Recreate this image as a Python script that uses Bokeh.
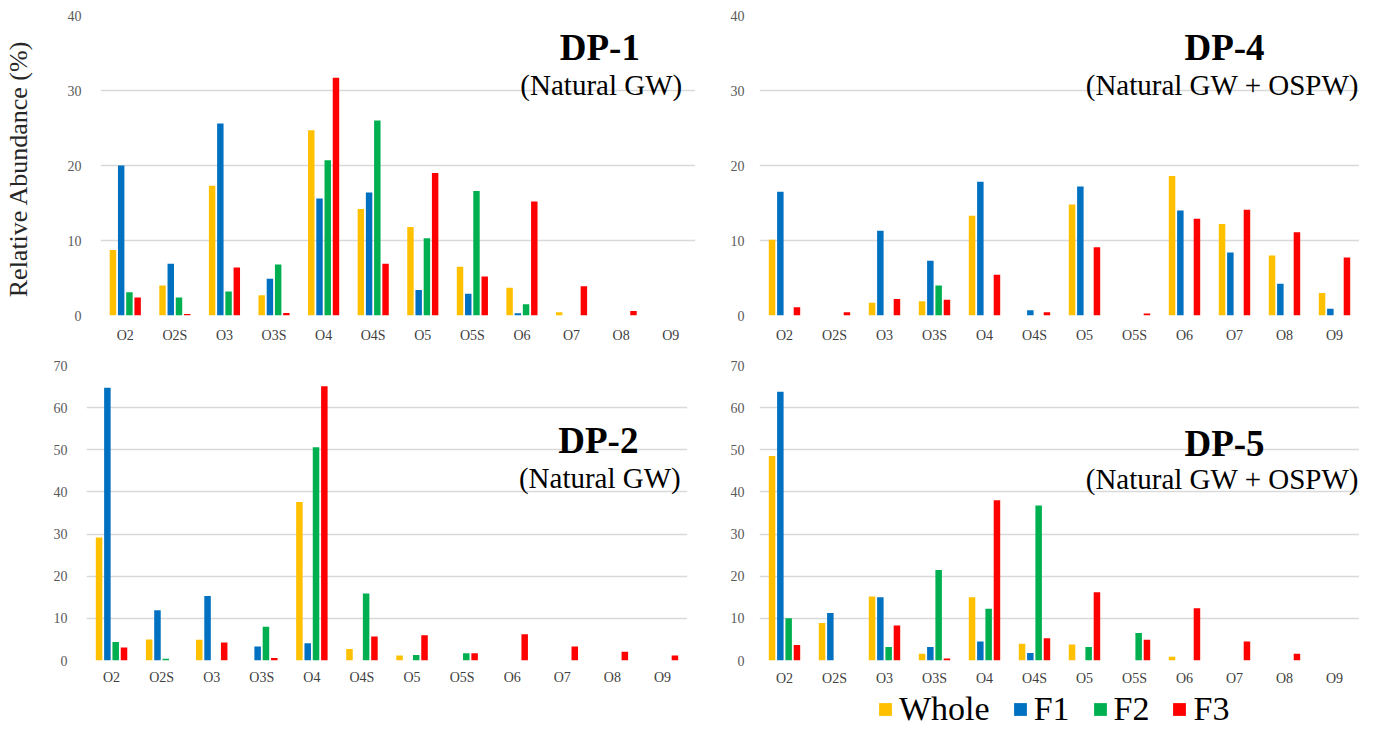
from bokeh.plotting import figure
from bokeh.models import (FactorRange, Range1d, SingleIntervalTicker, Label,
                          Legend, LegendItem, ColumnDataSource)
from bokeh.layouts import row, column
from bokeh.transform import dodge
from bokeh.embed import file_html
from bokeh.resources import INLINE

categories = ["O2", "O2S", "O3", "O3S", "O4", "O4S", "O5", "O5S", "O6", "O7", "O8", "O9"]
series = ["Whole", "F1", "F2", "F3"]
colors = ["#FFC000", "#0070C0", "#00B050", "#FF0000"]

dp1_whole = [8.75, 4.0, 17.3, 2.7, 24.7, 14.2, 11.8, 6.5, 3.7, 0.45, 0, 0]
dp1_f1 = [20.0, 6.9, 25.6, 4.9, 15.6, 16.4, 3.4, 2.9, 0.3, 0, 0, 0]
dp1_f2 = [3.1, 2.4, 3.2, 6.8, 20.7, 26.0, 10.3, 16.6, 1.5, 0, 0, 0]
dp1_f3 = [2.4, 0.2, 6.4, 0.35, 31.7, 6.9, 19.0, 5.2, 15.2, 3.9, 0.6, 0]

dp4_whole = [10.1, 0, 1.7, 1.9, 13.3, 0, 14.8, 0, 18.6, 12.2, 8.0, 3.0]
dp4_f1 = [16.5, 0, 11.3, 7.3, 17.85, 0.7, 17.2, 0, 14.0, 8.4, 4.25, 0.9]
dp4_f2 = [0, 0, 0, 4.0, 0, 0, 0, 0, 0, 0, 0, 0]
dp4_f3 = [1.1, 0.45, 2.2, 2.1, 5.45, 0.45, 9.1, 0.27, 12.9, 14.1, 11.1, 7.75]

dp2_whole = [29.2, 5.0, 4.9, 0, 37.6, 2.7, 1.2, 0, 0, 0, 0, 0]
dp2_f1 = [64.7, 11.9, 15.3, 3.3, 4.1, 0, 0, 0, 0, 0, 0, 0]
dp2_f2 = [4.4, 0.4, 0, 8.0, 50.6, 15.9, 1.3, 1.7, 0, 0, 0, 0]
dp2_f3 = [3.1, 0, 4.3, 0.6, 65.1, 5.7, 6.0, 1.7, 6.2, 3.3, 2.1, 1.2]

dp5_whole = [48.5, 8.9, 15.2, 1.6, 15.0, 4.0, 3.8, 0, 0.9, 0, 0, 0]
dp5_f1 = [63.8, 11.3, 15.0, 3.2, 4.5, 1.8, 0, 0, 0, 0, 0, 0]
dp5_f2 = [10.0, 0, 3.2, 21.5, 12.3, 36.8, 3.2, 6.5, 0, 0, 0, 0]
dp5_f3 = [3.7, 0, 8.3, 0.5, 38.0, 5.3, 16.2, 4.9, 12.4, 4.5, 1.6, 0]

FONT = "Liberation Serif"
offsets = [-0.249, -0.083, 0.083, 0.249]


def make_panel(vals, ymax, width, height, mbl, mbr, mbt, mbb, ylab_standoff,
               xlab_standoff, title, subtitle, tx, ty, sx, sy, sub_align="center",
               ytitle=None):
    p = figure(x_range=FactorRange(*categories, range_padding=0),
               y_range=Range1d(0, ymax), width=width, height=height,
               output_backend="svg", toolbar_location=None,
               min_border_left=mbl, min_border_right=mbr,
               min_border_top=mbt, min_border_bottom=mbb)
    src = ColumnDataSource(dict(cat=categories, Whole=vals[0], F1=vals[1],
                                F2=vals[2], F3=vals[3]))
    for s, c, off in zip(series, colors, offsets):
        p.vbar(x=dodge("cat", off, range=p.x_range), top=s, width=0.13,
               source=src, fill_color=c, line_color=None)
    p.outline_line_color = None
    p.xgrid.grid_line_color = None
    p.ygrid.grid_line_color = "#d9d9d9"
    p.ygrid.grid_line_width = 1.5
    p.yaxis.ticker = SingleIntervalTicker(interval=10)
    for ax in (p.xaxis[0], p.yaxis[0]):
        ax.axis_line_color = None
        ax.major_tick_line_color = None
        ax.minor_tick_line_color = None
        ax.major_tick_out = 0
        ax.major_tick_in = 0
        ax.major_label_text_font = FONT
        ax.major_label_text_font_size = "14px"
    p.xaxis.major_label_text_color = "#404040"
    p.yaxis.major_label_text_color = "#595959"
    p.yaxis.major_label_standoff = ylab_standoff
    p.xaxis.major_label_standoff = xlab_standoff
    if ytitle:
        p.yaxis.axis_label = ytitle
        p.yaxis.axis_label_text_font = FONT
        p.yaxis.axis_label_text_font_style = "normal"
        p.yaxis.axis_label_text_font_size = "26px"
        p.yaxis.axis_label_text_color = "#262626"
        p.yaxis.axis_label_standoff = 32
    p.add_layout(Label(x=tx, y=ty, text=title, text_font=FONT,
                       text_font_style="bold", text_font_size="37px",
                       text_align="center", text_baseline="alphabetic",
                       text_color="black"))
    p.add_layout(Label(x=sx, y=sy, text=subtitle, text_font=FONT,
                       text_font_style="normal",
                       text_font_size="29px", text_align=sub_align,
                       text_baseline="alphabetic", text_color="black"))
    return p


p1 = make_panel([dp1_whole, dp1_f1, dp1_f2, dp1_f3], 40, 722, 350, 94, 27, 15, 35,
                15, 12, "DP-1", "(Natural GW)", 10.07, 35.7, 10.1, 30.8,
                ytitle="Relative  Abundance (%)")
p4 = make_panel([dp4_whole, dp4_f1, dp4_f2, dp4_f3], 40, 637, 350, 37, 0, 15, 35,
                11, 12, "DP-4", "(Natural GW + OSPW)", 9.3, 35.7, 11.99, 30.8,
                sub_align="right")
p2 = make_panel([dp2_whole, dp2_f1, dp2_f2, dp2_f3], 70, 722, 338, 86, 35, 15, 25,
                15, 9, "DP-2", "(Natural GW)", 10.22, 52.1, 10.25, 43.3)
p5 = make_panel([dp5_whole, dp5_f1, dp5_f2, dp5_f3], 70, 637, 338, 37, 0, 14, 27,
                11, 10, "DP-5", "(Natural GW + OSPW)", 9.3, 51.6, 11.99, 43.0,
                sub_align="right")

lf = figure(width=1359, height=40, x_range=Range1d(0, 1), y_range=Range1d(0, 1),
            output_backend="svg", toolbar_location=None, min_border=0)
lf.axis.visible = False
lf.grid.visible = False
lf.outline_line_color = None
items = []
for s, c in zip(series, colors):
    r = lf.vbar(x=[-5], top=[-5], width=0.1, fill_color=c, line_color=None)
    items.append(LegendItem(label=s, renderers=[r]))
leg = Legend(items=items, orientation="horizontal", location=(877, 0),
             glyph_width=16, glyph_height=16, label_standoff=6, spacing=22,
             padding=0, margin=0, border_line_color=None, background_fill_alpha=0,
             label_text_font=FONT, label_text_font_size="34px",
             label_text_color="black")
lf.add_layout(leg)

layout = column(row(p1, p4), row(p2, p5), lf)
open("out.html", "w").write(file_html(layout, INLINE))
